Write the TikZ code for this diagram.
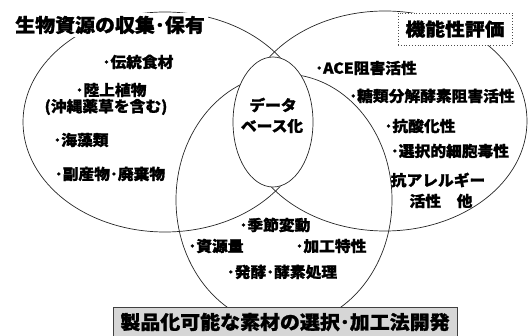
\documentclass[tikz,border=0pt]{standalone}
\usepackage{fontspec}
\newfontfamily\jp{Noto Sans CJK JP}[FakeStretch=1.05,BoldFeatures={FakeBold=1.2}]
\newfontfamily\jpw{Noto Sans CJK JP}[FakeStretch=1.1,BoldFeatures={FakeBold=1.2}]
\begin{document}
\begin{tikzpicture}[x=1pt,y=-1pt,
  ring/.style={draw=black!85,line width=0.7pt},
  txt/.style={font=\jp\bfseries\fontsize{15}{17}\selectfont,inner sep=0pt,align=center},
  big/.style={font=\jp\bfseries\fontsize{19}{21}\selectfont}]
\useasboundingbox (0,0) rectangle (529,336);
% circles
\draw[ring] (165,122) ellipse [x radius=142pt,y radius=110pt];
\draw[ring] (385,121) ellipse [x radius=142pt,y radius=110pt];
\draw[ring] (284,200) ellipse [x radius=108pt,y radius=126pt];
\draw[ring,fill=white] (273,122) ellipse [x radius=40pt,y radius=65pt];
% headings
\node[big,fill=white,inner sep=3pt] (title) at (110,25) {生物資源の収集･保有};
\node[font=\jpw\bfseries\fontsize{18}{20}\selectfont,draw=black!70,dotted,line width=0.8pt,fill=white,
  minimum width=114pt,minimum height=32pt,inner sep=0pt] (func) at (455,29) {機能性評価};
\node[big,draw=black!75,fill=black!16,minimum width=344pt,minimum height=30pt,inner sep=0pt] (prod) at (285,322) {製品化可能な素材の選択･加工法開発};
% left circle items
\node[txt] (l1) at (138,62) {･伝統食材};
\node[txt] (l2) at (111,90) {･陸上植物};
\node[txt] (l3) at (106,107) {(沖縄薬草を含む)};
\node[txt] (l4) at (81,140) {･海藻類};
\node[txt] (l5) at (110,174) {･副産物･廃棄物};
% center
\node[txt] (c1) at (273,105) {データ};
\node[txt] (c2) at (272,126) {ベース化};
% right circle items
\node[txt] (r1) at (366,68) {･ACE阻害活性};
\node[txt] (r2) at (432,96) {･糖類分解酵素阻害活性};
\node[txt] (r3) at (420,126) {･抗酸化性};
\node[txt] (r4) at (450,151) {･選択的細胞毒性};
\node[txt] (r5) at (438,180) {抗アレルギー};
\node[txt] (r6) at (441,201) {活性　他};
% bottom circle items
\node[txt] (b1) at (275,225) {･季節変動};
\node[txt] (b2) at (216,246) {･資源量};
\node[txt] (b3) at (331,246) {･加工特性};
\node[txt] (b4) at (282,272) {･発酵･酵素処理};
\end{tikzpicture}
\end{document}
